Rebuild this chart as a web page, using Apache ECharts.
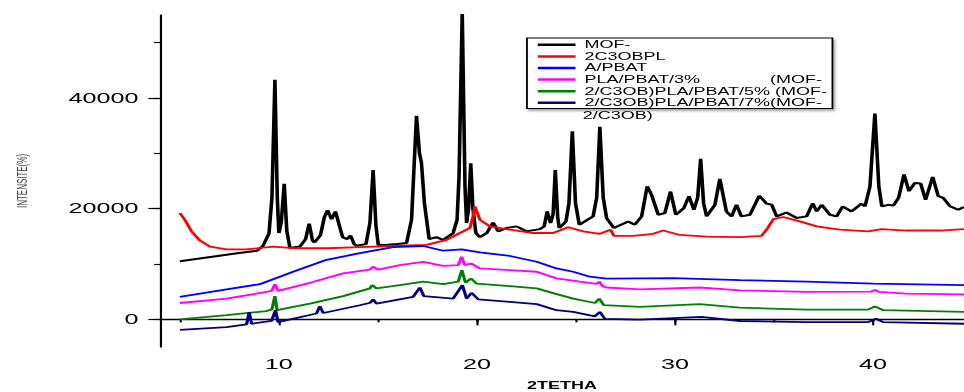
<!DOCTYPE html>
<html>
<head>
<meta charset="utf-8">
<script src="https://cdn.jsdelivr.net/npm/echarts@6/dist/echarts.min.js"></script>
<style>
html, body { margin: 0; padding: 0; background: #fff; overflow: hidden; }
/* the source figure is stretched sideways, so the chart is drawn narrow and scaled */
#chart { width: 536px; height: 392px; transform: scaleX(1.7985); transform-origin: 0 0; }
</style>
</head>
<body>
<div id="chart"></div>
<script>
const xTicks = [5, 10, 15, 20, 25, 30, 35, 40];
const xLabels = [10, 20, 30, 40];
const yTicks = [0, 10000, 20000, 30000, 40000, 50000];
const yLabels = [0, 20000, 40000];

const seriesNames = [
  'MOF-',
  '2C3OBPL',
  'A/PBAT',
  'PLA/PBAT/3%              (MOF-',
  '2/C3OB)PLA/PBAT/5% (MOF-',
  '2/C3OB)PLA/PBAT/7%(MOF-'
];
const seriesColors = ['#000000', '#ff0000', '#0000ff', '#ff00ff', '#008000', '#000080'];

// [2theta, intensity]
const mof = [
  [5.0,10500],[6,11000],[7,11500],[8,12000],[8.9,12400],[9.2,13300],[9.5,15500],[9.65,22000],[9.8,43300],
  [9.92,22000],[10.0,15600],[10.12,17500],[10.27,24500],[10.4,16000],[10.56,12900],[11.06,13150],[11.35,14500],
  [11.53,17300],[11.7,14200],[11.8,13900],[12.1,15200],[12.3,18500],[12.46,19700],[12.66,18100],[12.86,19500],
  [13.05,17000],[13.22,14850],[13.45,14500],[13.62,15150],[13.8,13600],[13.92,13300],[14.4,13600],[14.6,17500],
  [14.76,27000],[14.9,17000],[15.02,13450],[15.5,13500],[16.0,13600],[16.45,13800],[16.7,18000],[16.95,36800],
  [17.1,30000],[17.2,28300],[17.35,21000],[17.59,14500],[17.96,14850],[18.3,14350],[18.8,15600],[19.0,18000],
  [19.1,26000],[19.26,55500],[19.4,24000],[19.48,17400],[19.58,20000],[19.69,28200],[19.8,20000],[19.95,15600],
  [20.15,14850],[20.5,15600],[20.82,17500],[21.08,15900],[21.5,16500],[22.0,16800],[22.5,15900],[23.18,16300],
  [23.4,16800],[23.55,19500],[23.72,17400],[23.85,19000],[23.96,27000],[24.08,18500],[24.16,16500],[24.5,17700],
  [24.65,21000],[24.82,34000],[24.98,21000],[25.17,17100],[25.87,18600],[26.05,22000],[26.21,34800],[26.38,22000],
  [26.55,18300],[26.92,16500],[27.64,17700],[27.98,17100],[28.32,18600],[28.6,24050],[28.82,22500],[29.16,18900],
  [29.49,19200],[29.78,23100],[30.05,18900],[30.45,20100],[30.71,22250],[30.96,19800],[31.15,22000],[31.3,29000],
  [31.45,21000],[31.6,18600],[32.02,20700],[32.27,25400],[32.6,19500],[32.86,18600],[33.11,20700],[33.36,18600],
  [33.79,18900],[34.26,22350],[34.63,20900],[34.89,20700],[35.14,18600],[35.64,19300],[36.15,18300],[36.65,18600],
  [36.96,21000],[37.16,19500],[37.41,20700],[37.83,18900],[38.17,18600],[38.47,20400],[38.92,19500],[39.43,20900],
  [39.6,20400],[39.85,24000],[40.1,37200],[40.3,24000],[40.45,20400],[40.78,20700],[41.03,20550],[41.3,22000],
  [41.57,26200],[41.82,23150],[42.12,24650],[42.41,24550],[42.66,21600],[43.02,25750],[43.3,22250],[43.55,21950],
  [43.89,20450],[44.31,19800],[44.6,20300]
];
const pla = [
  [5.0,19200],[5.25,18000],[5.59,15900],[6.01,14250],[6.52,13150],[7.36,12650],[8.37,12650],[9.71,13150],
  [10.72,12850],[12.41,12850],[14.09,13050],[15.77,13250],[17.46,13450],[18.47,14350],[19.14,15600],[19.65,16500],
  [19.8,18500],[19.9,20400],[20.15,18000],[20.66,16800],[21.67,16200],[22.85,15600],[23.85,15600],[24.61,16650],
  [25.37,15900],[26.21,15450],[26.75,16200],[26.92,15100],[27.89,15100],[28.9,15450],[29.41,16050],[30.25,15250],
  [31.6,14950],[33.28,14850],[34.37,15100],[34.63,16200],[34.97,18100],[35.47,18500],[36.31,17700],[37.16,16800],
  [38.33,16200],[39.76,15900],[40.43,16300],[41.69,16050],[43.38,16050],[44.6,16300]
];
const blend = [
  [5.0,4050],[7.36,5400],[9.04,6350],[10.72,8600],[12.41,10750],[14.09,11950],[15.77,13050],[17.29,13250],
  [18.3,12400],[19.23,12650],[20.15,12100],[21.67,11450],[23.02,10400],[24.02,9200],[24.86,8600],[25.71,7700],
  [26.55,7350],[29.91,7450],[33.28,7100],[36.65,6800],[40.02,6450],[44.6,6200]
];
const mof3 = [
  [5.0,2950],[7.36,3750],[9.38,4950],[9.65,5200],[9.8,6350],[9.96,5150],[11.57,6600],[13.25,8300],[14.6,9000],
  [14.76,9500],[15.02,9000],[16.11,9800],[17.29,10400],[18.3,9650],[19.06,9800],[19.23,11300],[19.39,9800],
  [19.7,10100],[20.15,9200],[21.67,8900],[23.02,8600],[24.02,7400],[25.2,6800],[26.05,6400],[26.18,6800],
  [26.35,6000],[26.55,5750],[28.23,5400],[31.26,5750],[33.28,5250],[36.65,4950],[39.9,5000],[40.1,5300],
  [40.3,4950],[41.69,4650],[44.6,4500]
];
const mof5 = [
  [5.0,0],[7.36,750],[9.38,1500],[9.65,1800],[9.8,4200],[9.91,1650],[11.57,2850],[13.25,4200],[14.6,5600],
  [14.71,6200],[14.93,5600],[16.11,6200],[17.29,6800],[18.3,6350],[19.06,6800],[19.24,8900],[19.43,6600],
  [19.7,7400],[19.98,6450],[21.67,6000],[23.02,5600],[23.94,4650],[24.86,3750],[25.96,2950],[26.18,3750],
  [26.41,2550],[28.23,2250],[31.26,2750],[33.28,2100],[36.65,1750],[39.76,1750],[40.1,2350],[40.52,1650],
  [44.6,1350]
];
const mof7 = [
  [5.0,-1900],[7.36,-1400],[8.37,-900],[8.5,1300],[8.62,-800],[9.63,-300],[9.83,1650],[9.96,-500],[11.9,1050],
  [12.07,2350],[12.24,1150],[14.09,2550],[14.62,3000],[14.76,3600],[14.93,2850],[16.78,4050],[17.12,5750],
  [17.32,4200],[18.8,3750],[19.27,6200],[19.48,3750],[19.73,4800],[20.07,3600],[21.67,3150],[23.02,2750],
  [24.02,1650],[24.86,1350],[25.96,550],[26.21,1350],[26.46,100],[28.23,-50],[31.34,450],[33.28,-300],
  [36.65,-500],[39.76,-500],[40.15,100],[40.52,-500],[44.6,-800]
];
const allData = [mof, pla, blend, mof3, mof5, mof7];

const chart = echarts.init(document.getElementById('chart'), null, { renderer: 'svg' });

const font = 'Liberation Sans, Arial, sans-serif';

chart.setOption({
  animation: false,
  backgroundColor: '#fff',
  grid: { left: 89, right: 0, top: 15, bottom: 45, containLabel: false, outerBoundsMode: 'none' },
  xAxis: [
    {
      type: 'value', position: 'bottom', min: 4, max: 44.6,
      axisLine: { lineStyle: { color: '#000', width: 1.3 } },
      axisTick: { customValues: xLabels, length: 6, lineStyle: { color: '#000', width: 1.2 } },
      axisLabel: { customValues: xLabels, formatter: v => String(v), fontSize: 14, fontFamily: font, color: '#000', margin: 10 },
      splitLine: { show: false },
      name: '2TETHA', nameLocation: 'middle', nameGap: 34,
      nameTextStyle: { fontSize: 10, fontWeight: 'bold', fontFamily: font, color: '#000' }
    },
    {
      type: 'value', position: 'bottom', min: 4, max: 44.6,
      axisLine: { show: false },
      axisTick: { customValues: xTicks, length: 3, lineStyle: { color: '#000', width: 1.2 } },
      axisLabel: { show: false },
      splitLine: { show: false }
    }
  ],
  yAxis: [
    {
      type: 'value', position: 'left', min: -5000, max: 55000,
      axisLine: { show: true, lineStyle: { color: '#000', width: 1.2 } },
      axisTick: { show: true, customValues: yLabels, length: 6.5, lineStyle: { color: '#000', width: 1.2 } },
      axisLabel: { customValues: yLabels, formatter: v => String(v), fontSize: 14, fontFamily: font, color: '#000', margin: 12 },
      splitLine: { show: false },
      name: 'INTENSITE(%)', nameLocation: 'middle', nameRotate: 90, nameGap: 73,
      nameTextStyle: { fontSize: 8, fontFamily: font, color: '#444' }
    },
    {
      type: 'value', position: 'left', min: -5000, max: 55000,
      axisLine: { show: false },
      axisTick: { show: true, customValues: yTicks, length: 3.3, lineStyle: { color: '#000', width: 1.2 } },
      axisLabel: { show: false },
      splitLine: { show: false }
    }
  ],
  legend: {
    orient: 'vertical',
    left: 293, top: 38,
    padding: [1, 3, 0, 6],
    itemGap: 0,
    itemWidth: 21, itemHeight: 2.5,
    icon: 'rect',
    borderColor: '#000', borderWidth: 1,
    backgroundColor: '#fff',
    shadowColor: 'rgba(0,0,0,0.35)', shadowBlur: 2, shadowOffsetX: 1, shadowOffsetY: 2,
    textStyle: { fontSize: 10, fontFamily: font, color: '#000', lineHeight: 11.6 },
    data: seriesNames
  },
  graphic: [
    { type: 'text', left: 324, top: 111, style: { text: '2/C3OB)', fontSize: 10, fontFamily: font, fill: '#000' } }
  ],
  series: allData.map((d, i) => ({
    name: seriesNames[i],
    type: 'line',
    data: d,
    showSymbol: false,
    symbol: 'none',
    color: seriesColors[i],
    lineStyle: { color: seriesColors[i], width: i === 0 ? 2 : 1.8 }
  }))
});
</script>
</body>
</html>
